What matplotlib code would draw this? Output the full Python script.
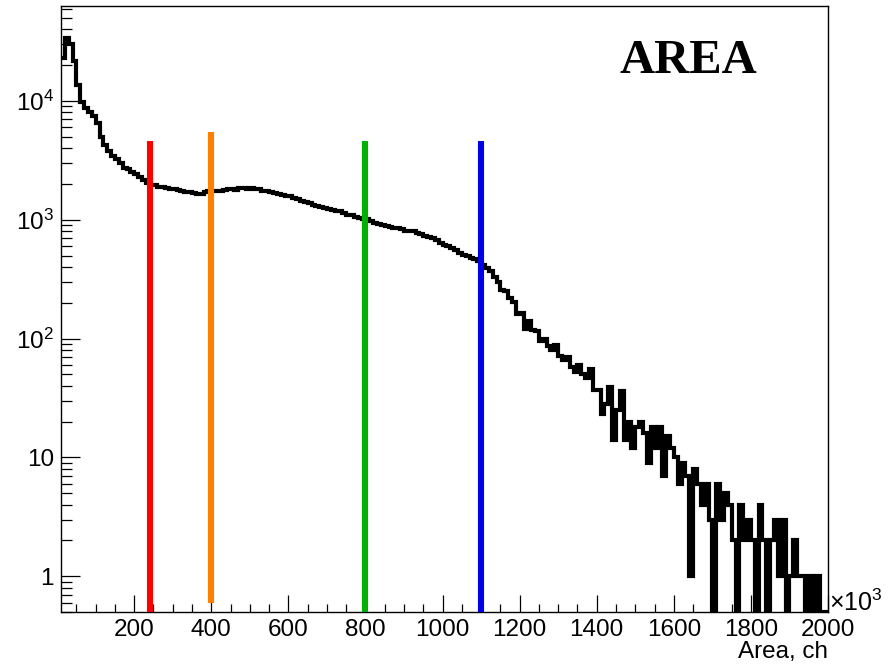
import numpy as np
import matplotlib
matplotlib.use("Agg")
import matplotlib.pyplot as plt
from matplotlib.ticker import FixedLocator, MultipleLocator, NullFormatter

plt.rcParams['font.family'] = ['Liberation Sans', 'DejaVu Sans']
plt.rcParams['mathtext.fontset'] = 'custom'
plt.rcParams['mathtext.rm'] = 'Liberation Sans'
plt.rcParams['mathtext.it'] = 'Liberation Sans:italic'

# histogram binning (x10^3 channels)
bin_lo, bin_hi, bin_w = 10, 2000, 10

counts = [
    # 10 - 100
    23000, 34000, 30000, 21500, 13500, 9800, 8800, 8000, 7500,
    # 100 - 200
    6500, 5000, 4300, 3800, 3450, 3250, 3000, 2750, 2650, 2500,
    # 200 - 300
    2450, 2300, 2180, 2050, 1980, 1950, 1900, 1880, 1850, 1830,
    # 300 - 400
    1800, 1770, 1750, 1720, 1700, 1680, 1660, 1650, 1700, 1740,
    # 400 - 500
    1740, 1760, 1750, 1790, 1800, 1820, 1790, 1840, 1860, 1830,
    # 500 - 600
    1850, 1820, 1810, 1760, 1740, 1700, 1690, 1660, 1630, 1590,
    # 600 - 700
    1580, 1540, 1500, 1450, 1400, 1390, 1340, 1300, 1270, 1250,
    # 700 - 800
    1240, 1210, 1180, 1180, 1140, 1100, 1090, 1060, 1040, 1020,
    # 800 - 900
    1010, 970, 940, 930, 900, 890, 870, 850, 860, 830,
    # 900 - 1000
    810, 800, 800, 770, 760, 730, 710, 700, 670, 640,
    # 1000 - 1100
    610, 600, 580, 555, 530, 510, 500, 480, 465, 450,
    # 1100 - 1200
    420, 395, 370, 330, 300, 255, 250, 220, 205, 160,
    # 1200 - 1300
    165, 120, 140, 118, 115, 96, 100, 86, 80, 88,
    # 1300 - 1400
    72, 66, 70, 58, 52, 60, 50, 47, 55, 37,
    # 1400 - 1500
    37, 23, 28, 39, 14, 25, 36, 14, 20, 12,
    # 1500 - 1600
    18, 20, 16, 9, 18, 12, 18, 7, 15, 12,
    # 1600 - 1700
    10, 6, 9, 7, 1, 8, 6, 4, 6, 3,
    # 1700 - 1800
    0, 6, 3, 5, 4, 2, 0, 4, 2, 3,
    # 1800 - 1900
    2, 0, 4, 2, 0, 2, 3, 1, 3, 0,
    # 1900 - 2000
    1, 2, 1, 1, 0, 1, 0, 1, 0, 0,
]

# cut positions and the heights of their markers
cut_x = [240, 400, 800, 1100]
cut_top = [4600, 5500, 4600, 4600]
cut_bottom = [0.5, 0.6, 0.5, 0.5]
cut_colors = ['#ff0000', '#ff8000', '#00b000', '#0000e6']

y_ticks = [1, 10, 100, 1000, 10000]
y_ticklabels = ['1', '10', '$10^{2}$', '$10^{3}$', '$10^{4}$']
x_ticks = [200, 400, 600, 800, 1000, 1200, 1400, 1600, 1800, 2000]

ymin, ymax = 0.5, 63000

edges = np.arange(bin_lo, bin_hi + bin_w, bin_w)
vals = np.array(counts, dtype=float)
# empty bins go down to the frame floor, as in ROOT
vals = np.where(vals > 0, vals, ymin)

fig = plt.figure(figsize=(8.89, 6.66), dpi=100)
ax = fig.add_axes([0.0686, 0.0811, 0.8628, 0.9099])

ax.stairs(vals, edges, baseline=None, color='black', linewidth=3.0)

for x, top, bot, c in zip(cut_x, cut_top, cut_bottom, cut_colors):
    ax.vlines(x, bot, top, colors=c, linewidth=4.4, zorder=3)

ax.set_yscale('log', nonpositive='clip')
ax.set_xlim(bin_lo, bin_hi)
ax.set_ylim(ymin, ymax)

ax.xaxis.set_major_locator(FixedLocator(x_ticks))
ax.xaxis.set_minor_locator(MultipleLocator(50))
ax.yaxis.set_major_locator(FixedLocator(y_ticks))
ax.set_yticklabels(y_ticklabels)
minor_y = [m * 10 ** d for d in range(-1, 5) for m in range(2, 10)]
ax.yaxis.set_minor_locator(FixedLocator(minor_y))
ax.yaxis.set_minor_formatter(NullFormatter())

ax.tick_params(axis='x', which='major', direction='in', length=12.5, width=0.9,
               labelsize=17.5, pad=5)
ax.tick_params(axis='x', which='minor', direction='in', length=6, width=0.9)
ax.tick_params(axis='y', which='major', direction='in', length=14, width=0.9,
               labelsize=17.5, pad=5)
ax.tick_params(axis='y', which='minor', direction='in', length=8, width=0.9)

for sp in ax.spines.values():
    sp.set_linewidth(1.0)

fig.text(0.774, 0.908, 'AREA', family=['Liberation Serif', 'DejaVu Serif'],
         fontweight='bold', fontsize=35, ha='center', va='center')
fig.text(0.9314, 0.021, 'Area, ch', ha='right', va='center', fontsize=17.5)
fig.text(0.933, 0.0826, r'$\times10^{3}$', ha='left', va='baseline', fontsize=18)

fig.savefig('out.png', dpi=100)
